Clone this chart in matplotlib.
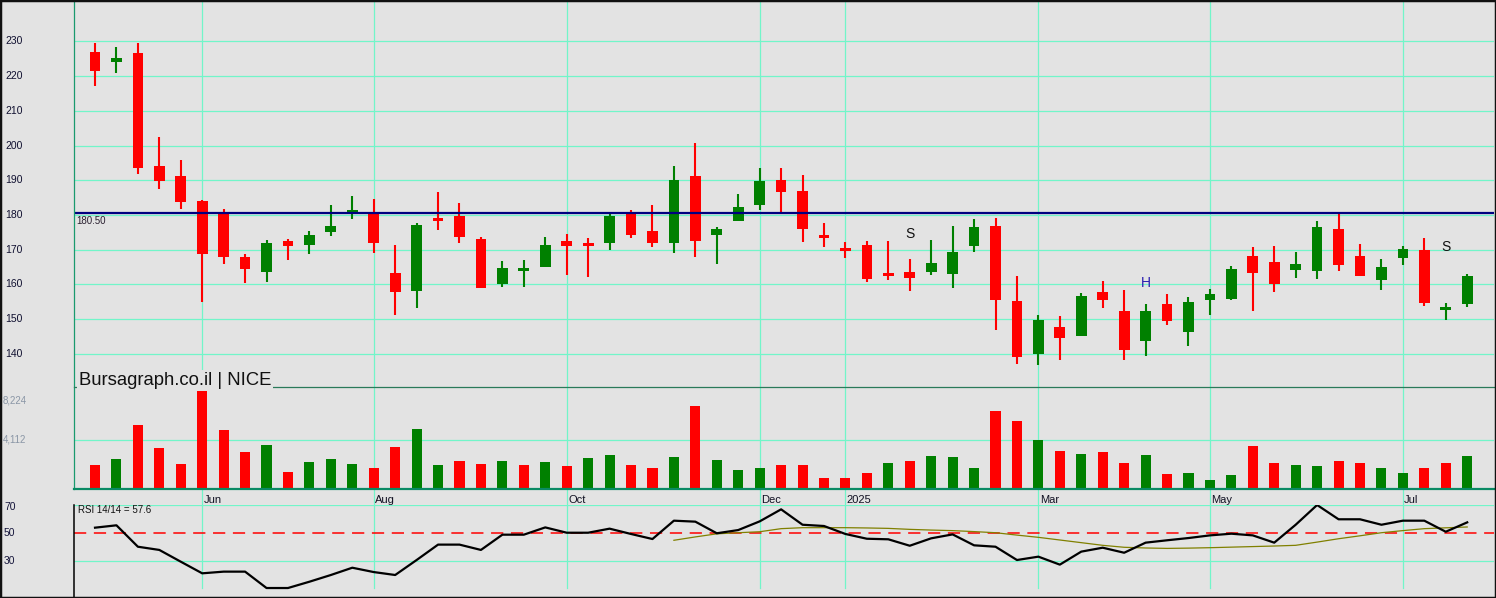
import matplotlib
matplotlib.use('Agg')
import matplotlib.pyplot as plt
from matplotlib.transforms import blended_transform_factory as btf
from matplotlib.lines import Line2D
from matplotlib.patches import Rectangle

plt.rcParams['font.family'] = ['Liberation Sans', 'DejaVu Sans']

# ---------------- data ----------------
opens = [226.9, 224.2, 226.6, 194.2, 191.3, 184.0, 181.0, 167.9, 163.7, 172.5,
         171.5, 175.2, 180.8, 180.5, 163.3, 158.2, 179.1, 179.7, 173.1, 160.0,
         163.8, 165.1, 172.5, 171.8, 171.8, 180.5, 175.4, 172.0, 191.2, 174.3,
         178.4, 183.0, 190.1, 186.9, 174.0, 170.5, 171.4, 163.1, 163.6, 163.6,
         163.1, 171.2, 176.8, 155.3, 140.1, 147.8, 145.3, 157.8, 152.4, 143.6,
         154.4, 146.4, 155.6, 155.9, 168.2, 166.5, 164.2, 164.0, 176.0, 168.2,
         161.4, 167.7, 169.9, 153.0, 154.5]
highs = [229.6, 228.4, 229.6, 202.5, 195.8, 184.2, 181.6, 168.8, 172.8, 173.1,
         175.4, 182.9, 185.5, 184.6, 171.4, 177.7, 186.6, 183.5, 173.8, 166.8,
         167.1, 173.7, 174.5, 173.4, 180.5, 181.5, 182.9, 194.1, 200.7, 176.6,
         186.1, 193.5, 193.5, 191.5, 177.7, 172.2, 172.5, 172.5, 167.4, 172.8,
         176.8, 178.9, 179.2, 162.5, 151.2, 150.9, 157.6, 161.0, 158.4, 154.4,
         157.3, 156.4, 158.7, 165.3, 170.8, 171.1, 169.4, 178.3, 180.5, 171.7,
         167.4, 171.1, 173.4, 154.7, 163.0]
lows = [217.1, 220.9, 191.9, 187.6, 181.8, 155.1, 166.0, 160.5, 160.8, 167.1,
        168.8, 174.1, 178.9, 169.2, 151.2, 153.3, 175.8, 172.0, 159.1, 159.4,
        159.4, 165.1, 162.8, 162.3, 170.0, 173.5, 170.9, 169.2, 168.0, 166.0,
        178.4, 181.5, 180.9, 172.3, 170.9, 167.7, 160.7, 161.3, 158.1, 162.8,
        159.0, 169.4, 147.0, 137.2, 136.9, 138.4, 145.3, 153.3, 138.4, 139.5,
        148.2, 142.4, 151.3, 155.4, 152.5, 157.7, 162.0, 161.6, 164.0, 162.5,
        158.5, 165.7, 153.9, 149.9, 153.6]
closes = [221.5, 225.0, 193.6, 189.9, 183.6, 168.9, 167.9, 164.6, 172.0, 171.2,
          174.2, 176.8, 181.2, 171.8, 157.7, 177.1, 178.4, 173.8, 159.1, 164.8,
          164.7, 171.4, 171.2, 171.3, 179.7, 174.3, 172.0, 190.1, 172.6, 176.0,
          182.3, 189.8, 186.7, 176.1, 173.6, 169.8, 161.6, 162.6, 162.0, 166.2,
          169.4, 176.6, 155.4, 139.2, 149.8, 144.7, 156.7, 155.4, 141.2, 152.4,
          149.6, 155.0, 157.3, 164.5, 163.4, 160.0, 165.9, 176.6, 165.7, 162.5,
          165.1, 170.2, 154.8, 153.4, 162.5]
volumes = [2014, 2517, 5370, 3440, 2098, 8224, 4950, 3104, 3692, 1426,
           2265, 2517, 2098, 1762, 3524, 5034, 2040, 2377, 2125, 2377,
           2040, 2293, 1957, 2629, 2880, 2040, 1790, 2713, 6990, 2460,
           1622, 1790, 2040, 2040, 950, 950, 1370, 2210, 2377, 2797,
           2713, 1790, 6570, 5730, 4136, 3213, 2962, 3130, 2207, 2880,
           1284, 1370, 783, 1200, 3633, 2207, 2040, 1957, 2377, 2207,
           1790, 1370, 1790, 2207, 2797]
rsi = [53.8, 55.5, 40.2, 37.9, 29.5, 21.2, 22.4, 22.4, 10.7, 10.7,
       15.2, 20.0, 25.2, 22.1, 20.0, 30.7, 41.7, 41.7, 37.9, 48.8,
       48.8, 54.0, 50.2, 50.2, 53.1, 49.3, 45.7, 58.8, 58.1, 49.8,
       52.1, 58.3, 66.9, 55.9, 55.0, 49.3, 45.9, 45.5, 40.9, 46.2,
       49.0, 41.2, 40.2, 30.7, 33.1, 27.4, 36.7, 39.5, 35.9, 43.1,
       44.8, 46.4, 48.3, 49.5, 48.3, 43.1, 55.9, 70.0, 59.8, 59.8,
       55.9, 58.8, 58.8, 50.9, 57.6]
rsi_ma_start = 27
rsi_ma = [44.8, 47.2, 49.4, 50.2, 50.9, 53.1, 53.8, 53.8, 53.8, 53.6,
          53.3, 52.6, 52.1, 51.7, 51.0, 50.2, 48.5, 46.9, 45.0, 43.1,
          41.2, 39.8, 39.3, 39.0, 39.2, 39.5, 39.9, 40.3, 40.7, 41.2,
          43.5, 45.9, 48.0, 50.2, 51.7, 53.1, 53.7, 54.3]
month_idx = [5, 13, 22, 31, 35, 44, 52, 61]
month_labels = ['Jun', 'Aug', 'Oct', 'Dec', '2025', 'Mar', 'May', 'Jul']
price_ticks = [140, 150, 160, 170, 180, 190, 200, 210, 220, 230]
resistance = 180.50
vol_ticks = [4112, 8224]
rsi_ticks = [30, 50, 70]
rsi_label = 'RSI 14/14 = 57.6'
title = 'Bursagraph.co.il | NICE'
marks = [(38, 174.5, 'S', '#111111'), (49, 160.4, 'H', '#2a1fb0'), (63, 170.8, 'S', '#111111')]

# ---------------- style ----------------
W, H = 1496, 598
BG = '#e3e3e3'
GRID = '#72f5c9'
RED = '#ff0000'
GREEN = '#008000'

def fx(x):
    return x / W

def fy(y):
    return 1 - y / H

fig = plt.figure(figsize=(W / 100, H / 100), dpi=100, facecolor=BG)

XL = (-0.98, 65.25)
ax_p = fig.add_axes([fx(74), fy(387), fx(1494) - fx(74), fy(2) - fy(387)])
ax_v = fig.add_axes([fx(74), fy(489), fx(1494) - fx(74), fy(387) - fy(489)])
ax_r = fig.add_axes([fx(74), fy(596), fx(1494) - fx(74), fy(505) - fy(596)])

for ax in (ax_p, ax_v, ax_r):
    ax.set_xlim(*XL)
    ax.patch.set_visible(False)
    for s in ax.spines.values():
        s.set_visible(False)
    ax.set_xticks([])
    ax.set_yticks([])

ax_p.set_ylim(130.5, 241.3)
ax_v.set_ylim(0, 8558)
ax_r.set_ylim(5, 70)

# gridlines
for p in price_ticks:
    ax_p.axhline(p, color=GRID, lw=0.9, zorder=0)
for i in month_idx:
    ax_p.axvline(i, color=GRID, lw=0.9, zorder=0)
    ax_v.axvline(i, ymin=-16 / 102, ymax=1, color=GRID, lw=0.9, zorder=0, clip_on=False)
    ax_r.axvline(i, ymin=8 / 91, ymax=1, color=GRID, lw=0.9, zorder=0)
ax_v.axhline(vol_ticks[0], color=GRID, lw=0.9, zorder=0)
ax_r.axhline(70, color=GRID, lw=0.9, zorder=0)
ax_r.axhline(30, color=GRID, lw=0.9, zorder=0)

# candles
n = len(opens)
for i in range(n):
    o, h, l, c = opens[i], highs[i], lows[i], closes[i]
    col = GREEN if c >= o else RED
    ax_p.vlines(i, l, h, color=col, lw=1.5, zorder=3)
    bh = abs(c - o)
    mid = (o + c) / 2
    bh = max(bh, 0.9)
    ax_p.bar(i, bh, bottom=mid - bh / 2, width=0.5, color=col, zorder=4, linewidth=0)

# resistance line
ax_p.axhline(resistance, color='#000080', lw=1.6, zorder=5)
ax_p.annotate(f'{resistance:.2f}', xy=(XL[0], resistance), xytext=(2, -2),
              textcoords='offset points', ha='left', va='top', fontsize=7, color='#2a2030')

for (i, p, t, c) in marks:
    ax_p.text(i, p, t, fontsize=10, color=c, ha='center', va='center', zorder=6)

# price tick labels
tp = btf(fig.transFigure, ax_p.transData)
for p in price_ticks:
    ax_p.text(fx(5), p, str(p), transform=tp, ha='left', va='center', fontsize=7.5,
              color='#101030', clip_on=False)

# volume
vcol = []
for i in range(n):
    if i == 0:
        vcol.append(RED if closes[0] < opens[0] else GREEN)
    else:
        vcol.append(GREEN if closes[i] >= closes[i - 1] else RED)
ax_v.bar(range(n), volumes, width=0.47, color=vcol, zorder=3, linewidth=0)
tv = btf(fig.transFigure, ax_v.transData)
ax_v.text(fx(3), vol_ticks[0], f'{vol_ticks[0]:,}', transform=tv, ha='left', va='center',
          fontsize=7, color='#8a96a6', clip_on=False)
ax_v.annotate(f'{vol_ticks[1]:,}', xy=(fx(3), vol_ticks[1]), xycoords=tv, xytext=(0, -7),
              textcoords='offset points', ha='left', va='center', fontsize=7,
              color='#8a96a6', annotation_clip=False)

# RSI
ax_r.axhline(50, color=RED, lw=1.1, ls=(0, (8, 5)), zorder=2)
ax_r.plot(range(n), rsi, color='black', lw=1.6, zorder=4)
ax_r.plot(range(rsi_ma_start, rsi_ma_start + len(rsi_ma)), rsi_ma, color='#808000', lw=0.9, zorder=3)
tr = btf(fig.transFigure, ax_r.transData)
for t in rsi_ticks:
    ax_r.text(fx(4), t + (-1.2 if t == 70 else 0), str(t), transform=tr, ha='left', va='center',
              fontsize=7.5, color='#14143a', clip_on=False)
ax_r.text(fx(78), fy(510), rsi_label, transform=fig.transFigure, ha='left', va='center',
          fontsize=7, color='#111111')

# month labels
tm = btf(ax_r.transData, fig.transFigure)
for i, lab in zip(month_idx, month_labels):
    ax_r.annotate(lab, xy=(i, fy(500)), xycoords=tm, xytext=(1, 0), textcoords='offset points',
                  ha='left', va='center', fontsize=8, color='#111122', annotation_clip=False)

# panel lines
fig.add_artist(Line2D([fx(74), fx(74)], [fy(489), fy(2)], color='#1a9a6e', lw=0.9))
fig.add_artist(Line2D([fx(74), fx(74)], [fy(598), fy(505)], color='black', lw=1.1))
fig.add_artist(Line2D([fx(74), fx(1494)], [fy(387), fy(387)], color='#2a7a5a', lw=0.9, zorder=2))
fig.add_artist(Line2D([fx(74), fx(1494)], [fy(489), fy(489)], color='#0a8a64', lw=1.6, zorder=2))

# title with background box
fig.text(fx(79), fy(385), title, ha='left', va='baseline', fontsize=13.3, color='#111111',
         bbox=dict(facecolor=BG, edgecolor='none', pad=1.2), zorder=5)

# frame
fig.add_artist(Rectangle((0, 0), 1, 1, transform=fig.transFigure, fill=False,
                         edgecolor='#111111', lw=2.5, zorder=10))

fig.savefig('out.png', dpi=100, facecolor=BG)
